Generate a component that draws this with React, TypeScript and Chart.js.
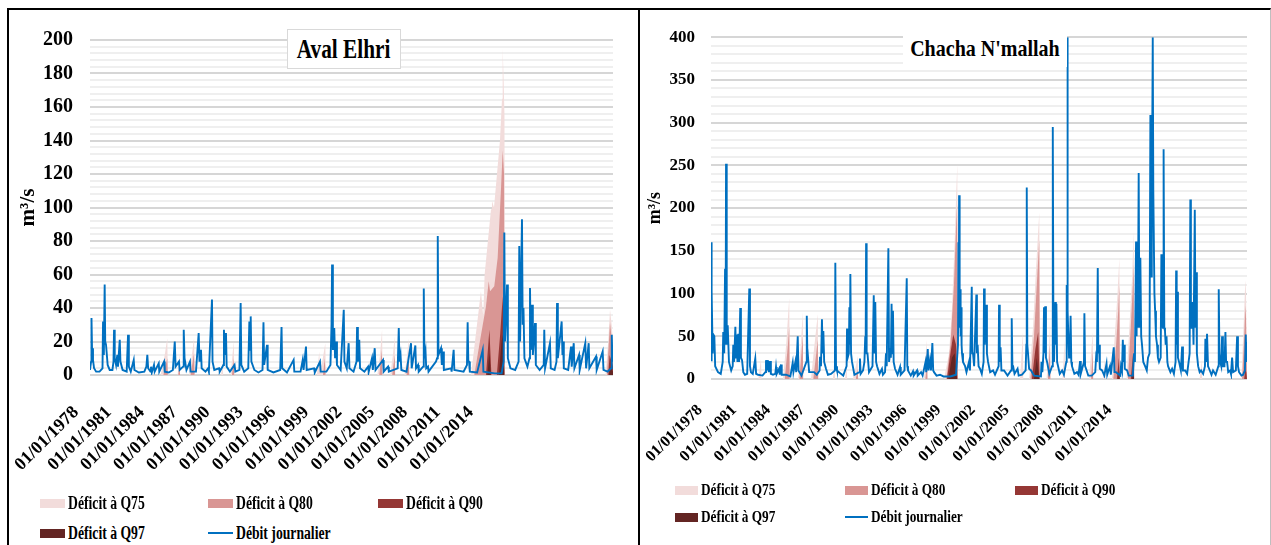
import React, { useEffect, useRef } from "react";
import { Chart, registerables } from "chart.js";

Chart.register(...registerables);

type Pt = [number, number];

// ---------- labels / colours ----------
const SERIES_NAMES = ["Déficit à Q75", "Déficit à Q80", "Déficit à Q90", "Déficit à Q97", "Débit journalier"];
const SERIES_COLORS = ["#f2dcdb", "#d99694", "#953735", "#632523", "#0070c0"];
const X_TICK_LABELS = [
  "01/01/1978", "01/01/1981", "01/01/1984", "01/01/1987", "01/01/1990", "01/01/1993", "01/01/1996",
  "01/01/1999", "01/01/2002", "01/01/2005", "01/01/2008", "01/01/2011", "01/01/2014",
];
const X_MIN = 1978;
const X_MAX = 2016.5;
const Y_UNIT = "m³/s";
const AVAL_TITLE = "Aval Elhri";
const CHACHA_TITLE = "Chacha N'mallah";

// tick anchor positions (decimal years) where the reference prints its date labels
const AVAL_TICK_POS = [1978.07, 1980.49, 1982.91, 1985.34, 1987.76, 1990.18, 1992.6, 1995.03, 1997.45, 1999.87, 2002.29, 2004.71, 2007.14];
const CHACHA_TICK_POS = [1978.22, 1980.67, 1983.12, 1985.57, 1988.02, 1990.47, 1992.92, 1995.37, 1997.82, 2000.27, 2002.72, 2005.17, 2007.62];

// ---------- Aval Elhri (m3/s) ----------
const avalDebit: Pt[] = [
  [1978.0, 3], [1978.08, 8], [1978.11, 34], [1978.15, 16], [1978.22, 9], [1978.3, 4], [1978.45, 2], [1978.7, 2],
  [1978.92, 4], [1978.96, 32], [1979.02, 12], [1979.08, 54], [1979.12, 20], [1979.18, 18], [1979.3, 6], [1979.45, 3],
  [1979.65, 3], [1979.73, 8], [1979.77, 27], [1979.82, 10], [1979.92, 6], [1980.01, 12], [1980.06, 5], [1980.19, 21],
  [1980.24, 8], [1980.4, 3], [1980.7, 2], [1980.8, 24], [1980.86, 5], [1981.0, 2], [1981.22, 9], [1981.27, 3],
  [1981.6, 1.5], [1982.0, 2], [1982.15, 5], [1982.22, 12], [1982.28, 4], [1982.45, 2], [1982.49, 5], [1982.55, 1.5],
  [1982.71, 6], [1982.76, 2], [1983.06, 7], [1983.1, 2], [1983.45, 8], [1983.5, 2], [1983.8, 1.5], [1984.1, 3],
  [1984.24, 20], [1984.3, 5], [1984.55, 8], [1984.6, 3], [1984.85, 5], [1984.9, 27], [1984.96, 10], [1985.1, 3],
  [1985.36, 8], [1985.4, 2], [1985.8, 2], [1986.0, 25], [1986.06, 8], [1986.17, 15], [1986.22, 4], [1986.5, 2],
  [1986.69, 4], [1986.75, 2], [1986.98, 45], [1987.02, 8], [1987.15, 3], [1987.5, 4], [1987.55, 2], [1987.82, 6],
  [1987.86, 27], [1987.92, 12], [1988.01, 25], [1988.06, 5], [1988.3, 2], [1988.64, 6], [1988.7, 2], [1989.0, 3],
  [1989.09, 43], [1989.14, 6], [1989.35, 2], [1989.65, 4], [1989.73, 32], [1989.78, 15], [1989.83, 35], [1989.88, 8],
  [1990.1, 3], [1990.4, 1.5], [1990.7, 3], [1990.77, 31.5], [1990.82, 6], [1991.03, 18], [1991.08, 3], [1991.5, 1.5],
  [1992.0, 3], [1992.1, 28.6], [1992.15, 4], [1992.5, 1.5], [1992.99, 9], [1993.04, 2], [1993.5, 2], [1993.66, 9],
  [1993.72, 3], [1993.9, 17], [1993.95, 3], [1994.49, 4], [1994.55, 1.5], [1994.93, 8], [1994.98, 2], [1995.4, 2],
  [1995.7, 6], [1995.78, 30], [1995.82, 66], [1995.88, 15], [1995.98, 28], [1996.04, 10], [1996.11, 20], [1996.18, 6],
  [1996.45, 3], [1996.68, 39], [1996.73, 8], [1996.9, 4], [1997.04, 19], [1997.1, 4], [1997.4, 2], [1997.62, 8],
  [1997.66, 28.6], [1997.72, 8], [1997.82, 21], [1997.88, 4], [1998.2, 2], [1998.47, 5], [1998.52, 2], [1998.76, 10],
  [1998.82, 3], [1998.96, 16], [1999.02, 3], [1999.57, 9], [1999.62, 2], [1999.94, 5], [2000.0, 2], [2000.65, 4],
  [2000.73, 28], [2000.78, 8], [2000.86, 12], [2000.92, 3], [2001.3, 2], [2001.63, 19], [2001.68, 4], [2001.95, 17.6],
  [2002.0, 4], [2002.15, 6], [2002.2, 2], [2002.52, 5], [2002.57, 51.6], [2002.62, 10], [2002.7, 14], [2002.75, 4],
  [2002.88, 5], [2002.92, 2], [2003.47, 8], [2003.55, 10], [2003.6, 83], [2003.65, 12], [2003.84, 16], [2003.9, 6],
  [2003.99, 14], [2004.05, 3], [2004.58, 4], [2004.62, 2], [2004.77, 15], [2004.82, 3], [2005.5, 2], [2005.75, 6],
  [2005.8, 31.5], [2005.85, 8], [2005.9, 8], [2005.96, 2], [2006.5, 1.5], [2006.91, 15], [2006.96, 2], [2007.8, 1],
  [2008.3, 1], [2008.45, 8], [2008.5, 85], [2008.55, 20], [2008.7, 54], [2008.76, 10], [2008.95, 4], [2009.3, 3],
  [2009.55, 8], [2009.6, 77], [2009.66, 20], [2009.8, 93], [2009.85, 30], [2009.91, 40], [2009.98, 10], [2010.2, 5],
  [2010.35, 10], [2010.39, 52], [2010.45, 15], [2010.54, 42], [2010.6, 12], [2010.76, 31], [2010.82, 6], [2011.1, 3],
  [2011.4, 6], [2011.44, 27], [2011.5, 4], [2011.86, 19], [2011.92, 4], [2012.2, 3], [2012.34, 8], [2012.38, 43],
  [2012.44, 10], [2012.72, 32], [2012.78, 12], [2012.82, 20], [2012.88, 4], [2013.2, 3], [2013.41, 17], [2013.46, 5],
  [2013.61, 19], [2013.66, 4], [2014.0, 12], [2014.05, 3], [2014.46, 19], [2014.52, 4], [2014.71, 19], [2014.76, 4],
  [2015.25, 11], [2015.3, 3], [2015.74, 14], [2015.8, 3], [2016.1, 2], [2016.36, 4], [2016.41, 24], [2016.46, 8],
  [2016.5, 10],
];
const avalQ75: Pt[] = [
  [1978.0, 0], [1983.2, 0], [1983.5, 12], [1983.69, 22], [1983.73, 0], [1984.45, 0], [1984.6, 13], [1984.63, 0],
  [1985.3, 0], [1985.5, 12], [1985.66, 22], [1985.7, 0], [1987.65, 0], [1987.77, 9], [1987.8, 0], [1988.35, 0],
  [1988.58, 20], [1988.62, 0], [1994.7, 0], [1994.88, 14], [1994.92, 3], [1995.1, 8], [1995.32, 19], [1995.36, 0],
  [1998.4, 0], [1998.52, 8], [1998.55, 0], [1999.15, 0], [1999.35, 12], [1999.5, 27], [1999.54, 0], [2000.1, 0],
  [2000.3, 12], [2000.43, 23], [2000.46, 0], [2001.15, 0], [2001.35, 12], [2001.46, 22], [2001.5, 0], [2006.05, 0],
  [2006.34, 20], [2006.78, 50], [2006.95, 35], [2007.05, 60], [2007.52, 99], [2007.59, 104], [2007.74, 100],
  [2007.96, 120], [2008.18, 140], [2008.33, 165], [2008.38, 195], [2008.45, 175], [2008.51, 155], [2008.55, 0],
  [2015.95, 0], [2016.15, 20], [2016.28, 39], [2016.4, 30], [2016.5, 20],
];
const avalQ80: Pt[] = [
  [1978.0, 0], [1983.4, 0], [1983.69, 10], [1983.73, 0], [1984.5, 0], [1984.6, 7], [1984.63, 0], [1985.4, 0],
  [1985.66, 13], [1985.7, 0], [1988.45, 0], [1988.58, 10], [1988.62, 0], [1995.15, 0], [1995.28, 10], [1995.34, 0],
  [1999.3, 0], [1999.48, 15], [1999.52, 0], [2000.25, 0], [2000.43, 12], [2000.46, 0], [2001.3, 0], [2001.46, 12],
  [2001.5, 0], [2006.29, 0], [2006.7, 20], [2007.15, 41], [2007.35, 56], [2007.45, 50], [2007.76, 53], [2008.01, 70],
  [2008.26, 112], [2008.38, 134], [2008.48, 120], [2008.52, 0], [2016.05, 0], [2016.28, 31], [2016.5, 15],
];
const avalQ90: Pt[] = [
  [1978.0, 0], [2007.15, 0], [2007.4, 27], [2007.55, 0], [2007.95, 0], [2008.2, 25], [2008.38, 47], [2008.5, 0],
  [2016.15, 0], [2016.25, 12], [2016.5, 5],
];
const avalQ97: Pt[] = [
  [1978.0, 0], [2007.25, 0], [2007.4, 13], [2007.5, 0], [2008.1, 0], [2008.3, 20], [2008.45, 26], [2008.5, 0],
  [2016.2, 0], [2016.28, 5], [2016.5, 2],
];

// ---------- Chacha N'mallah (m3/s) ----------
const chachaDebit: Pt[] = [
  [1978.0, 22], [1978.02, 160], [1978.07, 103], [1978.12, 30], [1978.17, 52], [1978.24, 50], [1978.3, 15], [1978.5, 8],
  [1978.7, 6], [1978.84, 20], [1978.88, 55], [1978.95, 30], [1979.01, 129], [1979.05, 40], [1979.08, 252], [1979.13, 40],
  [1979.2, 63], [1979.29, 20], [1979.45, 10], [1979.56, 15], [1979.6, 40], [1979.66, 20], [1979.75, 61], [1979.8, 25],
  [1979.85, 52], [1979.9, 20], [1979.96, 53], [1980.02, 20], [1980.1, 83], [1980.15, 25], [1980.23, 22], [1980.32, 8],
  [1980.44, 5], [1980.6, 6], [1980.75, 106], [1980.8, 15], [1980.87, 8], [1981.0, 6], [1981.18, 24], [1981.24, 6],
  [1981.38, 5], [1981.7, 4], [1981.9, 8], [1981.95, 22], [1982.02, 10], [1982.09, 22], [1982.15, 8], [1982.24, 21],
  [1982.3, 6], [1982.45, 5], [1982.62, 6], [1982.67, 14], [1982.72, 6], [1982.89, 12], [1982.94, 5], [1983.03, 17],
  [1983.08, 5], [1983.39, 5], [1983.7, 3], [1983.87, 19], [1983.92, 8], [1984.06, 20], [1984.12, 8], [1984.23, 50],
  [1984.28, 10], [1984.5, 4], [1984.85, 20], [1984.88, 74], [1984.93, 20], [1984.97, 25], [1985.05, 8], [1985.4, 8],
  [1985.6, 5], [1985.8, 10], [1985.83, 26], [1985.9, 15], [1985.97, 70], [1986.02, 30], [1986.07, 56], [1986.13, 20],
  [1986.26, 12], [1986.4, 5], [1986.62, 6], [1986.9, 10], [1986.93, 136], [1986.98, 15], [1987.05, 10], [1987.34, 6],
  [1987.5, 4], [1987.74, 15], [1987.77, 59], [1987.82, 25], [1987.9, 30], [1987.94, 84], [1987.98, 40], [1988.01, 123],
  [1988.06, 30], [1988.13, 20], [1988.3, 5], [1988.65, 8], [1988.7, 24], [1988.75, 6], [1988.92, 10], [1989.02, 20],
  [1989.08, 50], [1989.11, 40], [1989.14, 159], [1989.18, 30], [1989.24, 30], [1989.35, 8], [1989.6, 15], [1989.69, 98],
  [1989.74, 30], [1989.8, 90], [1989.86, 20], [1989.93, 15], [1990.1, 6], [1990.28, 12], [1990.35, 5], [1990.5, 8],
  [1990.57, 30], [1990.62, 15], [1990.74, 153], [1990.79, 20], [1990.86, 30], [1990.92, 25], [1990.97, 88], [1991.02, 30],
  [1991.07, 80], [1991.12, 20], [1991.22, 12], [1991.4, 5], [1991.58, 14], [1991.63, 5], [1991.9, 10], [1992.06, 118],
  [1992.1, 15], [1992.15, 10], [1992.35, 4], [1992.51, 9], [1992.56, 4], [1992.8, 10], [1992.85, 4], [1993.09, 8],
  [1993.2, 4], [1993.41, 20], [1993.46, 8], [1993.57, 35], [1993.62, 10], [1993.73, 22], [1993.8, 10], [1993.9, 42],
  [1993.96, 10], [1994.02, 8], [1994.2, 4], [1994.45, 5], [1994.7, 3], [1995.2, 3], [1995.6, 5], [1995.74, 40],
  [1995.77, 160], [1995.8, 60], [1995.82, 215], [1995.86, 80], [1995.89, 105], [1995.93, 50], [1995.96, 84], [1996.0, 40],
  [1996.03, 30], [1996.1, 20], [1996.25, 15], [1996.35, 8], [1996.53, 20], [1996.6, 10], [1996.73, 108], [1996.77, 30],
  [1996.82, 30], [1996.9, 15], [1997.06, 99], [1997.1, 30], [1997.15, 40], [1997.22, 15], [1997.32, 12], [1997.45, 6],
  [1997.58, 20], [1997.61, 106], [1997.66, 40], [1997.76, 87], [1997.82, 30], [1997.9, 20], [1998.05, 8], [1998.26, 10],
  [1998.4, 5], [1998.66, 15], [1998.69, 87], [1998.74, 20], [1998.8, 37], [1998.86, 10], [1999.05, 10], [1999.3, 4],
  [1999.55, 10], [1999.6, 71], [1999.65, 15], [1999.7, 15], [1999.8, 6], [2000.02, 12], [2000.1, 4], [2000.34, 5],
  [2000.6, 10], [2000.65, 40], [2000.68, 224], [2000.72, 40], [2000.77, 30], [2000.85, 12], [2000.99, 10], [2001.2, 4],
  [2001.7, 3], [2001.74, 20], [2001.8, 8], [2001.88, 30], [2001.92, 84], [2001.96, 30], [2002.01, 85], [2002.06, 25],
  [2002.14, 20], [2002.3, 6], [2002.5, 15], [2002.55, 295], [2002.6, 30], [2002.64, 20], [2002.73, 90], [2002.77, 40],
  [2002.81, 88], [2002.86, 20], [2002.93, 15], [2003.05, 6], [2003.22, 10], [2003.35, 5], [2003.52, 20], [2003.55, 110],
  [2003.58, 60], [2003.6, 400], [2003.63, 80], [2003.65, 60], [2003.72, 25], [2003.78, 30], [2003.83, 74], [2003.88, 20],
  [2003.93, 15], [2004.1, 6], [2004.29, 8], [2004.4, 5], [2004.51, 21], [2004.56, 6], [2004.79, 20], [2004.82, 77],
  [2004.87, 15], [2004.94, 12], [2005.1, 4], [2005.35, 4], [2005.6, 8], [2005.66, 25], [2005.72, 20], [2005.78, 130],
  [2005.82, 30], [2005.87, 40], [2005.93, 12], [2006.09, 10], [2006.25, 4], [2006.41, 18], [2006.46, 5], [2006.66, 15],
  [2006.72, 5], [2006.93, 37], [2006.98, 8], [2007.09, 8], [2007.4, 4], [2007.45, 15], [2007.52, 10], [2007.58, 46],
  [2007.63, 20], [2007.67, 40], [2007.72, 12], [2007.89, 10], [2008.0, 4], [2008.3, 4], [2008.39, 30], [2008.45, 20],
  [2008.53, 161], [2008.57, 50], [2008.6, 120], [2008.66, 60], [2008.72, 241], [2008.77, 60], [2008.84, 142], [2008.9, 50],
  [2008.96, 40], [2009.05, 20], [2009.18, 15], [2009.3, 10], [2009.39, 25], [2009.5, 30], [2009.56, 309], [2009.59, 120],
  [2009.61, 120], [2009.66, 180], [2009.73, 400], [2009.77, 220], [2009.8, 220], [2009.85, 100], [2009.9, 80], [2009.96, 50],
  [2010.04, 40], [2010.1, 25], [2010.18, 20], [2010.3, 25], [2010.35, 146], [2010.39, 60], [2010.43, 90], [2010.47, 60],
  [2010.51, 269], [2010.56, 60], [2010.61, 56], [2010.66, 40], [2010.72, 50], [2010.78, 20], [2010.83, 15], [2011.0, 8],
  [2011.12, 12], [2011.25, 6], [2011.37, 20], [2011.41, 127], [2011.45, 40], [2011.48, 102], [2011.54, 25], [2011.62, 20],
  [2011.75, 10], [2011.84, 38], [2011.9, 10], [2012.06, 10], [2012.2, 6], [2012.38, 30], [2012.43, 210], [2012.47, 60],
  [2012.52, 60], [2012.59, 90], [2012.66, 40], [2012.75, 198], [2012.8, 60], [2012.84, 125], [2012.9, 30], [2012.99, 15],
  [2013.1, 8], [2013.2, 10], [2013.35, 6], [2013.48, 15], [2013.51, 47], [2013.56, 20], [2013.63, 53], [2013.7, 15],
  [2013.78, 12], [2013.95, 5], [2014.06, 10], [2014.25, 5], [2014.44, 15], [2014.47, 105], [2014.52, 30], [2014.57, 20],
  [2014.65, 15], [2014.71, 50], [2014.77, 15], [2014.88, 15], [2014.95, 55], [2015.0, 20], [2015.07, 20], [2015.15, 8],
  [2015.29, 10], [2015.35, 6], [2015.43, 25], [2015.5, 8], [2015.7, 10], [2015.79, 50], [2015.85, 15], [2015.93, 8],
  [2016.1, 4], [2016.22, 5], [2016.35, 10], [2016.41, 52], [2016.46, 20], [2016.5, 43],
];
const chachaQ75: Pt[] = [
  [1978.0, 0], [1981.4, 0], [1981.59, 23], [1981.63, 0], [1983.17, 0], [1983.4, 40], [1983.62, 95], [1983.66, 0],
  [1984.25, 0], [1984.45, 40], [1984.59, 78], [1984.62, 0], [1985.18, 0], [1985.4, 35], [1985.67, 76], [1985.7, 0],
  [1986.75, 0], [1986.88, 18], [1986.91, 0], [1987.62, 0], [1987.75, 15], [1987.78, 0], [1988.2, 0], [1988.4, 15],
  [1988.54, 27], [1988.57, 0], [1993.3, 0], [1993.5, 46], [1993.54, 0], [1994.74, 0], [1995.1, 30], [1995.3, 80],
  [1995.5, 160], [1995.62, 220], [1995.69, 252], [1995.73, 0], [2000.2, 0], [2000.4, 55], [2000.43, 0], [2000.85, 0],
  [2001.13, 60], [2001.35, 130], [2001.58, 195], [2001.63, 0], [2002.1, 0], [2002.3, 40], [2002.35, 69], [2002.38, 0],
  [2003.25, 0], [2003.4, 46], [2003.43, 0], [2005.15, 0], [2005.3, 30], [2005.42, 55], [2005.45, 0], [2006.15, 0],
  [2006.3, 24], [2006.33, 0], [2006.8, 0], [2007.0, 50], [2007.2, 100], [2007.33, 142], [2007.37, 0], [2007.85, 0],
  [2008.05, 60], [2008.25, 120], [2008.36, 173], [2008.4, 0], [2013.1, 0], [2013.25, 22], [2013.28, 0], [2016.1, 0],
  [2016.25, 60], [2016.38, 116], [2016.43, 100], [2016.5, 0],
];
const chachaQ80: Pt[] = [
  [1978.0, 0], [1983.3, 0], [1983.5, 35], [1983.62, 61], [1983.65, 0], [1984.35, 0], [1984.59, 50], [1984.62, 0],
  [1985.35, 0], [1985.67, 46], [1985.7, 0], [1988.4, 0], [1988.54, 12], [1988.57, 0], [1993.4, 0], [1993.53, 20],
  [1993.55, 0], [1994.9, 0], [1995.2, 40], [1995.45, 110], [1995.62, 185], [1995.68, 205], [1995.72, 0], [2000.95, 0],
  [2001.2, 50], [2001.4, 110], [2001.58, 163], [2001.62, 0], [2002.2, 0], [2002.35, 40], [2002.38, 0], [2005.3, 0],
  [2005.42, 33], [2005.45, 0], [2006.9, 0], [2007.1, 40], [2007.25, 80], [2007.33, 110], [2007.37, 0], [2007.95, 0],
  [2008.15, 60], [2008.3, 110], [2008.36, 135], [2008.4, 0], [2016.15, 0], [2016.3, 50], [2016.38, 86], [2016.43, 70],
  [2016.5, 0],
];
const chachaQ90: Pt[] = [
  [1978.0, 0], [1994.95, 0], [1995.2, 30], [1995.4, 52], [1995.6, 40], [1995.7, 0], [2001.05, 0], [2001.3, 35],
  [2001.5, 55], [2001.6, 0], [2007.15, 0], [2007.3, 25], [2007.35, 0], [2008.15, 0], [2008.32, 30], [2008.38, 0],
  [2016.3, 0], [2016.38, 12], [2016.45, 8], [2016.5, 0],
];
const chachaQ97: Pt[] = [
  [1978.0, 0], [1995.05, 0], [1995.3, 25], [1995.5, 30], [1995.68, 0], [2001.2, 0], [2001.4, 25], [2001.58, 0],
  [2007.25, 0], [2007.32, 10], [2007.35, 0], [2008.25, 0], [2008.34, 12], [2008.38, 0],
];

// ---------- drawing ----------
const FONT = "'Liberation Serif', 'Times New Roman', serif";

type PanelCfg = {
  debit: Pt[]; q75: Pt[]; q80: Pt[]; q90: Pt[]; q97: Pt[];
  tickPos: number[];
  yMax: number; yStep: number; yMajor: number;
  box: { left: number; top: number; width: number; height: number };
  padTop: number; padRight: number; yWidth: number; xHeight: number;
  yFont: number; xFont: number; titleFont: number; titlePad: number; yPad: number; xPad: number; labelOffset: number;
  lineWidth: number;
};

function ChartPanel({ cfg }: { cfg: PanelCfg }) {
  const ref = useRef<HTMLCanvasElement | null>(null);
  useEffect(() => {
    if (!ref.current) return;
    const toXY = (a: Pt[]) => a.map(([x, y]) => ({ x, y }));
    const area = (label: string, data: Pt[], color: string, order: number) => ({
      label, data: toXY(data), backgroundColor: color, borderColor: color, borderWidth: 0,
      fill: "origin", pointRadius: 0, tension: 0, order,
    });
    const chart = new Chart(ref.current, {
      type: "line",
      data: {
        datasets: [
          { label: SERIES_NAMES[4], data: toXY(cfg.debit), borderColor: SERIES_COLORS[4], borderWidth: cfg.lineWidth,
            pointRadius: 0, fill: false, tension: 0, order: 0 } as any,
          area(SERIES_NAMES[3], cfg.q97, SERIES_COLORS[3], 1),
          area(SERIES_NAMES[2], cfg.q90, SERIES_COLORS[2], 2),
          area(SERIES_NAMES[1], cfg.q80, SERIES_COLORS[1], 3),
          area(SERIES_NAMES[0], cfg.q75, SERIES_COLORS[0], 4),
        ],
      },
      options: {
        animation: false,
        responsive: true,
        maintainAspectRatio: false,
        layout: { padding: { top: cfg.padTop, right: cfg.padRight, left: 0, bottom: 0 } },
        plugins: { legend: { display: false }, tooltip: { enabled: false }, title: { display: false } },
        scales: {
          x: {
            type: "linear", min: X_MIN, max: X_MAX,
            grid: { display: false }, border: { display: false },
            afterBuildTicks: (axis: any) => { axis.ticks = cfg.tickPos.map((v) => ({ value: v })); },
            afterFit: (s: any) => { s.height = cfg.xHeight; },
            ticks: {
              autoSkip: false, maxRotation: 45, minRotation: 45, padding: cfg.xPad, labelOffset: cfg.labelOffset,
              color: "#000", font: { family: FONT, size: cfg.xFont, weight: "bold" },
              callback: (_v: any, i: number) => X_TICK_LABELS[i],
            },
          },
          y: {
            min: 0, max: cfg.yMax,
            border: { display: false },
            afterFit: (s: any) => { s.width = cfg.yWidth; },
            grid: {
              drawTicks: false, lineWidth: 2,
              color: (c: any) => (c.tick && c.tick.value % cfg.yMajor === 0 ? "#d6d6d6" : "#efefef"),
            },
            ticks: {
              stepSize: cfg.yStep, maxTicksLimit: 200, autoSkip: false, padding: cfg.yPad, color: "#000",
              font: { family: FONT, size: cfg.yFont, weight: "bold" },
              callback: (v: any) => (Number(v) % cfg.yMajor === 0 ? String(v) : ""),
            },
            title: {
              display: true, text: Y_UNIT, color: "#000",
              font: { family: FONT, size: cfg.titleFont, weight: "bold", lineHeight: 1.2 },
              padding: { top: cfg.titlePad, bottom: 0 },
            },
          },
        },
      } as any,
    });
    return () => chart.destroy();
  }, [cfg]);
  return (
    <div style={{ position: "absolute", ...cfg.box }}>
      <canvas ref={ref} />
    </div>
  );
}

type LegendCfg = { cols: number[]; rows: number[]; font: number; swW: number; swH: number; scale: number };

function Legend({ cfg }: { cfg: LegendCfg }) {
  const slots: [number, number][] = [[0, 0], [1, 0], [2, 0], [0, 1], [1, 1]];
  return (
    <>
      {SERIES_NAMES.map((name, i) => {
        const [c, r] = slots[i];
        const isLine = i === 4;
        return (
          <div key={name} style={{ position: "absolute", left: cfg.cols[c], top: cfg.rows[r] - 12, height: 24,
            display: "flex", alignItems: "center", whiteSpace: "nowrap" }}>
            <span style={{ display: "inline-block", width: cfg.swW, height: isLine ? 2.5 : cfg.swH,
              background: SERIES_COLORS[i], marginRight: 3 }} />
            <span style={{ fontFamily: FONT, fontWeight: "bold", fontSize: cfg.font, color: "#000",
              display: "inline-block", transform: `scaleX(${cfg.scale})`, transformOrigin: "left center" }}>{name}</span>
          </div>
        );
      })}
    </>
  );
}

const AVAL_CFG: PanelCfg = {
  debit: avalDebit, q75: avalQ75, q80: avalQ80, q90: avalQ90, q97: avalQ97,
  tickPos: AVAL_TICK_POS, yMax: 200, yStep: 4, yMajor: 20,
  box: { left: 10, top: 11, width: 628, height: 490 },
  padTop: 14, padRight: 25, yWidth: 80, xHeight: 126,
  yFont: 20, xFont: 18, titleFont: 21, titlePad: 6, yPad: 17, xPad: 19, labelOffset: -15, lineWidth: 1.9,
};
const CHACHA_CFG: PanelCfg = {
  debit: chachaDebit, q75: chachaQ75, q80: chachaQ80, q90: chachaQ90, q97: chachaQ97,
  tickPos: CHACHA_TICK_POS, yMax: 400, yStep: 10, yMajor: 50,
  box: { left: 641, top: 11, width: 628, height: 470 },
  padTop: 15, padRight: 22, yWidth: 70, xHeight: 102,
  yFont: 17, xFont: 16, titleFont: 18, titlePad: 4, yPad: 16, xPad: 14, labelOffset: -14, lineWidth: 1.9,
};
const AVAL_LEGEND: LegendCfg = { cols: [40, 208, 378], rows: [503, 533], font: 18, swW: 25, swH: 9, scale: 0.76 };
const CHACHA_LEGEND: LegendCfg = { cols: [675, 845, 1015], rows: [490, 517], font: 17, swW: 23, swH: 9, scale: 0.78 };

export default function App() {
  return (
    <div style={{ position: "fixed", left: 0, top: 0, width: 1271, height: 545, overflow: "hidden", background: "#fff" }}>
      <div style={{ position: "absolute", left: 7, top: 8, width: 633, height: 560, boxSizing: "border-box",
        border: "2px solid #000", borderBottom: "none" }} />
      <div style={{ position: "absolute", left: 640, top: 8, width: 631, height: 560, boxSizing: "border-box",
        borderTop: "2px solid #000", borderRight: "1px solid #bfbfbf" }} />
      <ChartPanel cfg={AVAL_CFG} />
      <ChartPanel cfg={CHACHA_CFG} />
      <div style={{ position: "absolute", left: 287, top: 29, width: 114, height: 40, boxSizing: "border-box",
        border: "1.5px solid #d9d9d9", background: "#fff", display: "flex", alignItems: "center", justifyContent: "center" }}>
        <span style={{ fontFamily: FONT, fontWeight: "bold", fontSize: 28, color: "#000", display: "inline-block",
          transform: "scaleX(0.76)", whiteSpace: "nowrap" }}>{AVAL_TITLE}</span>
      </div>
      <div style={{ position: "absolute", left: 903, top: 30, width: 164, height: 37, background: "#fff",
        display: "flex", alignItems: "center", justifyContent: "center" }}>
        <span style={{ fontFamily: FONT, fontWeight: "bold", fontSize: 23, color: "#000", display: "inline-block",
          transform: "scaleX(0.87)", whiteSpace: "nowrap" }}>{CHACHA_TITLE}</span>
      </div>
      <Legend cfg={AVAL_LEGEND} />
      <Legend cfg={CHACHA_LEGEND} />
    </div>
  );
}
